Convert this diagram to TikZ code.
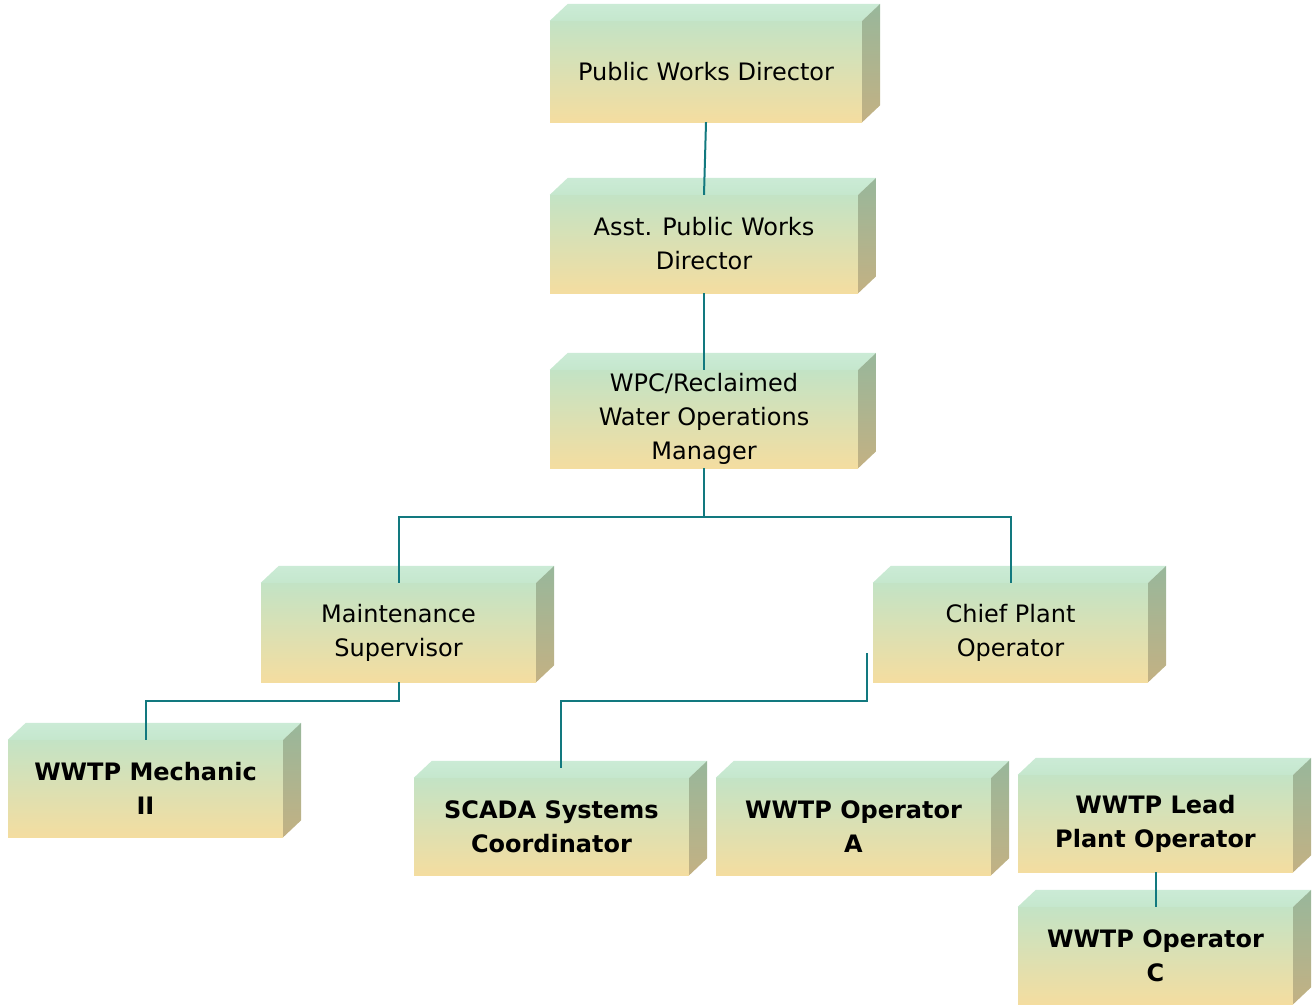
\documentclass[tikz,border=0pt]{standalone}
\usepackage{fontspec}
\setmainfont{DejaVu Sans}
\usetikzlibrary{calc}
\definecolor{faceTop}{HTML}{C3E3C5}
\definecolor{faceBot}{HTML}{F4DDA0}
\definecolor{lidLight}{HTML}{CBEBD6}
\definecolor{lidDark}{HTML}{C5E7CD}
\definecolor{sideTop}{HTML}{98B79B}
\definecolor{sideBot}{HTML}{C3B183}
\definecolor{linkteal}{HTML}{12797F}

\begin{document}
\begin{tikzpicture}[x=1pt,y=-1pt,
  block/.style={minimum width=#1, minimum height=99pt, inner sep=0pt, align=center, top color=faceTop, bottom color=faceBot, font=\fontsize{24}{34}\selectfont},
  block/.default=275,
  staff/.style={block=#1, font=\fontsize{24}{34}\selectfont\bfseries},
  staff/.default=275,
  link/.style={draw=linkteal, line width=2pt}]
\useasboundingbox (0,0) rectangle (1314,1004);
\node (pwd) [block=312, minimum height=101] at (706,71.5) {Public Works Director};
\node (apwd) [block=308, minimum height=98] at (704,244) {Asst. Public Works\\Director};
\node (wpc) [block=308, minimum height=98] at (704,419) {WPC/Reclaimed\\Water Operations\\Manager};
\node (maint) [block] at (398.5,632.5) {Maintenance\\Supervisor};
\node (chief) [block] at (1010.5,632.5) {Chief Plant\\Operator};
\node (mech) [staff, minimum height=97] at (145.5,788.5) {WWTP Mechanic\\II};
\node (scada) [staff, minimum height=97] at (551.5,826.5) {SCADA Systems\\Coordinator};
\node (opa) [staff, minimum height=97] at (853.5,826.5) {WWTP Operator\\A};
\node (leadop) [staff, minimum height=97] at (1155.5,823.5) {WWTP Lead\\Plant Operator};
\node (opc) [staff, minimum height=97] at (1155.5,955.5) {WWTP Operator\\C};
\foreach \n in {pwd,apwd,wpc,maint,chief,mech,scada,opa,leadop,opc} {
  \shade [top color=lidLight, bottom color=lidDark] (\n.north west) -- ++(18,-17) -- ($(\n.north east)+(18,-17)$) -- (\n.north east) -- cycle;
  \shade [top color=sideTop, bottom color=sideBot] (\n.north east) -- ++(18,-17) -- ($(\n.south east)+(18,-17)$) -- (\n.south east) -- cycle;
}
\coordinate (split) at ($(wpc.south)+(0,49)$);
\coordinate (chiefhook) at ($(chief.south west)+(-6,-29)$);
\coordinate (scadatop) at ($(scada.north)+(9,-10)$);
\draw [link] (pwd.south) -- (apwd.north);
\draw [link] (apwd.south) -- (wpc.north);
\draw [link] (wpc.south) -- (split);
\draw [link] (split) -| (maint.north);
\draw [link] (split) -| (chief.north);
\draw [link] (maint.south) -- ++(0,19) -| (mech.north);
\draw [link] (chiefhook) -- ++(0,48) -| (scadatop);
\draw [link] (leadop.south) -- (opc.north);
\end{tikzpicture}
\end{document}
